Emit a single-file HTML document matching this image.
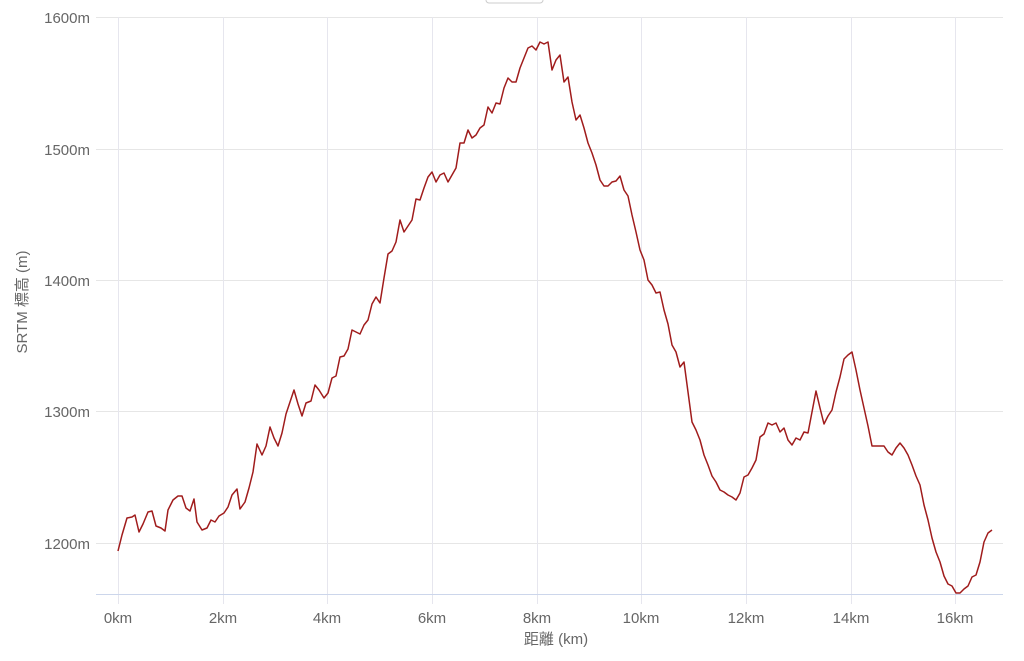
<!DOCTYPE html>
<html><head><meta charset="utf-8"><style>
body{margin:0;background:#fff;width:1024px;height:656px;overflow:hidden}
svg text{font-family:"Liberation Sans","Noto Sans CJK JP",sans-serif;fill:#666;font-size:15px}
</style></head><body>
<svg width="1024" height="656" viewBox="0 0 1024 656" xmlns="http://www.w3.org/2000/svg">
<rect x="486" y="-6" width="57" height="9" rx="3" fill="#fff" stroke="#ccc"/>
<g stroke="#e6e6e6" stroke-width="1">
<line x1="96" y1="17.5" x2="1003" y2="17.5"/>
<line x1="96" y1="149.5" x2="1003" y2="149.5"/>
<line x1="96" y1="280.5" x2="1003" y2="280.5"/>
<line x1="96" y1="411.5" x2="1003" y2="411.5"/>
<line x1="96" y1="543.5" x2="1003" y2="543.5"/>
</g>
<g stroke="#e6e6ee" stroke-width="1">
<line x1="118.5" y1="17" x2="118.5" y2="604"/>
<line x1="223.5" y1="17" x2="223.5" y2="604"/>
<line x1="327.5" y1="17" x2="327.5" y2="604"/>
<line x1="432.5" y1="17" x2="432.5" y2="604"/>
<line x1="537.5" y1="17" x2="537.5" y2="604"/>
<line x1="641.5" y1="17" x2="641.5" y2="604"/>
<line x1="746.5" y1="17" x2="746.5" y2="604"/>
<line x1="851.5" y1="17" x2="851.5" y2="604"/>
<line x1="955.5" y1="17" x2="955.5" y2="604"/>
</g>
<line x1="96" y1="594.5" x2="1003" y2="594.5" stroke="#ccd6eb"/>
<g text-anchor="end">
<text x="90" y="23">1600m</text>
<text x="90" y="155">1500m</text>
<text x="90" y="286">1400m</text>
<text x="90" y="417">1300m</text>
<text x="90" y="549">1200m</text>
</g>
<g text-anchor="middle">
<text x="118" y="623">0km</text>
<text x="223" y="623">2km</text>
<text x="327" y="623">4km</text>
<text x="432" y="623">6km</text>
<text x="537" y="623">8km</text>
<text x="641" y="623">10km</text>
<text x="746" y="623">12km</text>
<text x="851" y="623">14km</text>
<text x="955" y="623">16km</text>
<text x="556" y="644">距離 (km)</text>
<text x="0" y="0" transform="translate(27,302) rotate(-90)">SRTM 標高 (m)</text>
</g>
<polyline fill="none" stroke="#a01c1c" stroke-width="1.5" stroke-linejoin="round" points="118,551 122,535 127,518 132,517 135,515 139,532 143,524 148,512 152,511 156,526 161,528 165,531 168,510 173,500 178,496 182,496 186,508 190,511 194,499 197,522 202,530 207,528 211,520 215,522 219,516 224,513 228,507 232,495 237,489 240,509 245,502 249,488 253,472 257,444 262,455 266,446 270,427 274,438 278,446 282,433 286,414 290,402 294,390 298,404 302,416 306,403 311,401 315,385 319,390 324,398 328,393 332,378 336,376 340,357 344,356 348,349 352,330 356,332 360,334 364,325 368,320 372,304 376,297 380,303 384,278 388,254 392,251 396,242 400,220 404,232 408,226 412,220 416,199 420,200 424,188 428,177 432,172 436,182 440,175 444,173 448,182 452,175 456,168 460,143 464,143 468,130 472,138 476,135 480,128 484,125 488,107 492,113 496,103 500,104 504,88 508,78 512,82 516,82 520,68 524,58 528,48 532,46 536,50 540,42 544,44 548,42 552,70 556,60 560,55 564,82 568,77 572,102 576,120 580,115 584,128 588,143 592,153 596,165 600,180 604,186 608,186 612,182 616,181 620,176 624,190 628,196 632,215 636,232 640,250 644,260 648,280 652,285 656,293 660,292 664,310 668,324 672,345 676,352 680,367 684,362 688,392 692,422 696,430 700,440 704,455 708,465 712,476 716,482 720,490 724,492 728,495 732,497 736,500 740,493 744,477 748,475 752,468 756,460 760,437 764,434 768,423 772,425 776,423 780,432 784,428 788,440 792,445 796,438 800,440 804,432 808,433 812,412 816,391 820,408 824,424 828,416 832,410 836,392 840,377 844,359 848,355 852,352 856,370 860,390 864,408 868,426 872,446 876,446 880,446 884,446 888,452 892,455 896,448 900,443 904,448 908,455 912,465 916,476 920,485 924,505 928,520 932,538 936,552 940,562 944,576 948,584 952,586 956,593 960,593 964,589 968,586 972,577 976,575 980,562 984,542 988,533 992,530"/>
</svg>
</body></html>
